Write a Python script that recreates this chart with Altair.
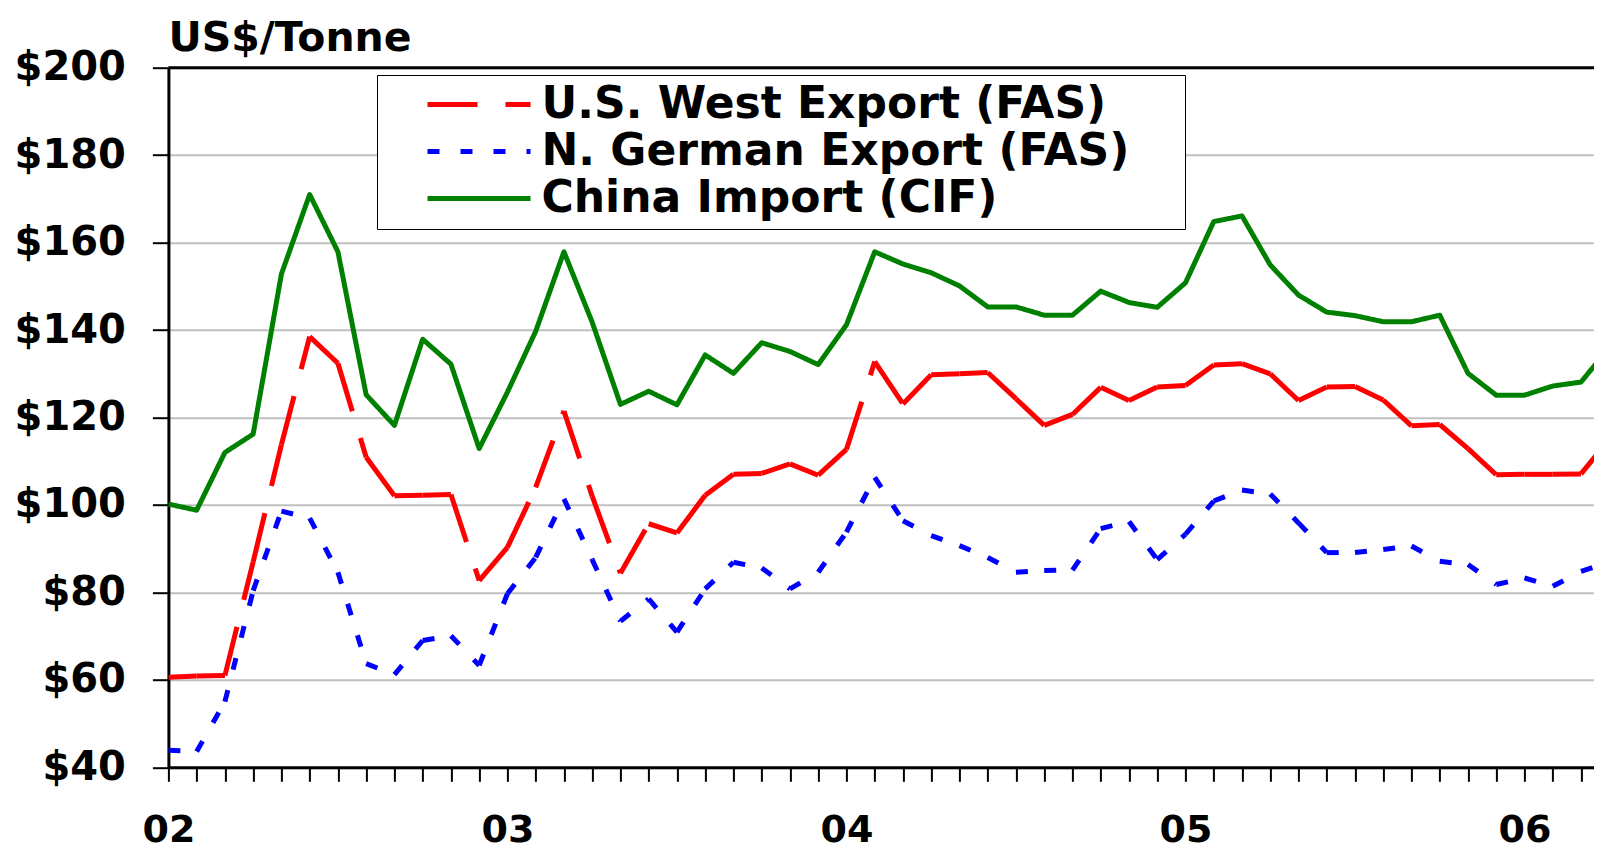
import json
import altair as alt
import pandas as pd

# ---- data (monthly, Jan 2002 = month 0) ----
months = list(range(52))
series_names = ["U.S. West Export (FAS)", "N. German Export (FAS)", "China Import (CIF)"]
us_west = [60.6, 60.9, 61.0, 87.0, 113.8, 138.5, 132.4, 110.9, 102.1, 102.2, 102.4, 82.7,
           90.3, 104.0, 121.5, 102.0, 84.4, 95.7, 93.6, 102.2, 107.0, 107.2, 109.4, 106.8,
           112.7, 132.8, 123.1, 129.8, 130.0, 130.3, 124.3, 118.2, 120.7, 126.9, 123.9, 127.0,
           127.3, 132.0, 132.3, 130.0, 123.9, 127.0, 127.1, 124.0, 118.1, 118.4, 112.9, 106.9,
           107.0, 107.0, 107.1, 115.0]
n_german = [43.9, 43.6, 55.0, 80.4, 98.6, 97.0, 84.6, 63.7, 61.2, 69.0, 70.1, 63.3,
            79.7, 88.0, 101.4, 87.5, 73.4, 78.5, 70.9, 80.8, 86.9, 85.6, 80.8, 84.6,
            93.8, 106.3, 96.4, 93.0, 90.7, 88.0, 84.6, 85.0, 85.1, 94.6, 96.2, 87.5,
            93.3, 100.9, 103.4, 102.5, 95.9, 89.1, 89.1, 89.8, 90.6, 87.1, 86.4, 81.8,
            83.3, 81.4, 84.8, 87.0]
china = [100.2, 98.8, 112.0, 116.2, 152.8, 171.0, 157.9, 125.2, 118.2, 137.9, 132.2, 112.9,
         125.8, 139.7, 157.9, 141.8, 123.0, 126.0, 122.9, 134.3, 130.1, 137.1, 135.1, 132.1,
         141.2, 157.9, 155.1, 153.1, 150.1, 145.3, 145.3, 143.4, 143.4, 148.9, 146.3, 145.2,
         150.8, 164.8, 166.1, 154.9, 148.0, 144.1, 143.3, 141.9, 141.9, 143.4, 130.1, 125.1,
         125.1, 127.2, 128.1, 136.0]
year_labels = ["02", "03", "04", "05", "06"]
y_ticks = [40, 60, 80, 100, 120, 140, 160, 180, 200]

colors = ["#FF0000", "#0000FF", "#008000"]
dashes = [[50, 28], [12, 21], [1, 0]]
FONT = "DejaVu Sans"

# dashed series drawn segment by segment (dash pattern restarts at each point)
seg_rows = []
for name, vals in zip(series_names[:2], [us_west, n_german]):
    for i in range(len(vals) - 1):
        for j in (i, i + 1):
            seg_rows.append({"series": name, "month": months[j], "price": vals[j],
                             "seg": f"{name}|{i}"})
seg_df = pd.DataFrame(seg_rows)
solid_df = pd.DataFrame({"series": series_names[2], "month": months, "price": china})
top_df = pd.DataFrame({"price": [y_ticks[-1]]})

x_max = 50.46
label_expr = ("datum.value % 12 == 0 ? " + json.dumps(year_labels)
              + "[datum.value / 12] : ''")

x_enc = alt.X("month:Q",
              scale=alt.Scale(domain=[0, x_max], nice=False, zero=False),
              axis=alt.Axis(values=list(range(51)), labelExpr=label_expr, title=None,
                            grid=False, tickSize=14, tickWidth=2, tickColor="black",
                            domainColor="black", domainWidth=3, labelFont=FONT,
                            labelFontSize=38, labelFontWeight="bold", labelColor="black",
                            labelPadding=30, labelOverlap=False, labelFlush=False))
y_enc = alt.Y("price:Q",
              scale=alt.Scale(domain=[40, 200], nice=False, zero=False),
              axis=alt.Axis(values=y_ticks, labelExpr="'$' + datum.value", title=None,
                            grid=True, gridColor="#c0c0c0", gridWidth=2,
                            tickSize=16, tickWidth=2, tickColor="black",
                            domainColor="black", domainWidth=3, labelFont=FONT,
                            labelFontSize=40, labelFontWeight="bold", labelColor="black",
                            labelPadding=27))

legend = alt.Legend(title="\u00a0", titleOrient="right", titlePadding=48, titleFontSize=1,
                    orient="none", legendX=208.6, legendY=7.3,
                    direction="vertical", symbolType="stroke", symbolSize=10609,
                    symbolStrokeWidth=5, clipHeight=43, labelFont=FONT, labelFontSize=44,
                    labelFontWeight="bold", labelColor="black", labelLimit=1000,
                    labelOffset=8.5, symbolOffset=40, padding=8, rowPadding=2,
                    strokeColor="black", fillColor="white")

color_enc = alt.Color("series:N", scale=alt.Scale(domain=series_names, range=colors),
                      legend=legend)
dash_enc = alt.StrokeDash("series:N", scale=alt.Scale(domain=series_names, range=dashes),
                          legend=legend)

dashed = alt.Chart(seg_df).mark_line(strokeWidth=5, strokeCap="butt", clip=True).encode(
    x=x_enc, y=y_enc, color=color_enc, strokeDash=dash_enc, detail="seg:N")

solid = alt.Chart(solid_df).mark_line(strokeWidth=5, strokeJoin="round", clip=True).encode(
    x=x_enc, y=y_enc, color=color_enc, strokeDash=dash_enc)

top_line = alt.Chart(top_df).mark_rule(color="black", strokeWidth=3).encode(y="price:Q")

chart = alt.layer(dashed, solid, top_line).properties(
    width=1425.6, height=699.6,
    padding={"left": 160.4, "top": 59.7, "right": 0, "bottom": 83.7},
    autosize=alt.AutoSizeParams(type="none"),
    title=alt.TitleParams("US$/Tonne", anchor="start", frame="group", font=FONT,
                          fontSize=41, fontWeight="bold", color="black",
                          baseline="alphabetic", offset=-44.5),
).configure_view(stroke=None).configure(background="white")

chart.save("out.html", embed_options={"renderer": "svg", "actions": False})
